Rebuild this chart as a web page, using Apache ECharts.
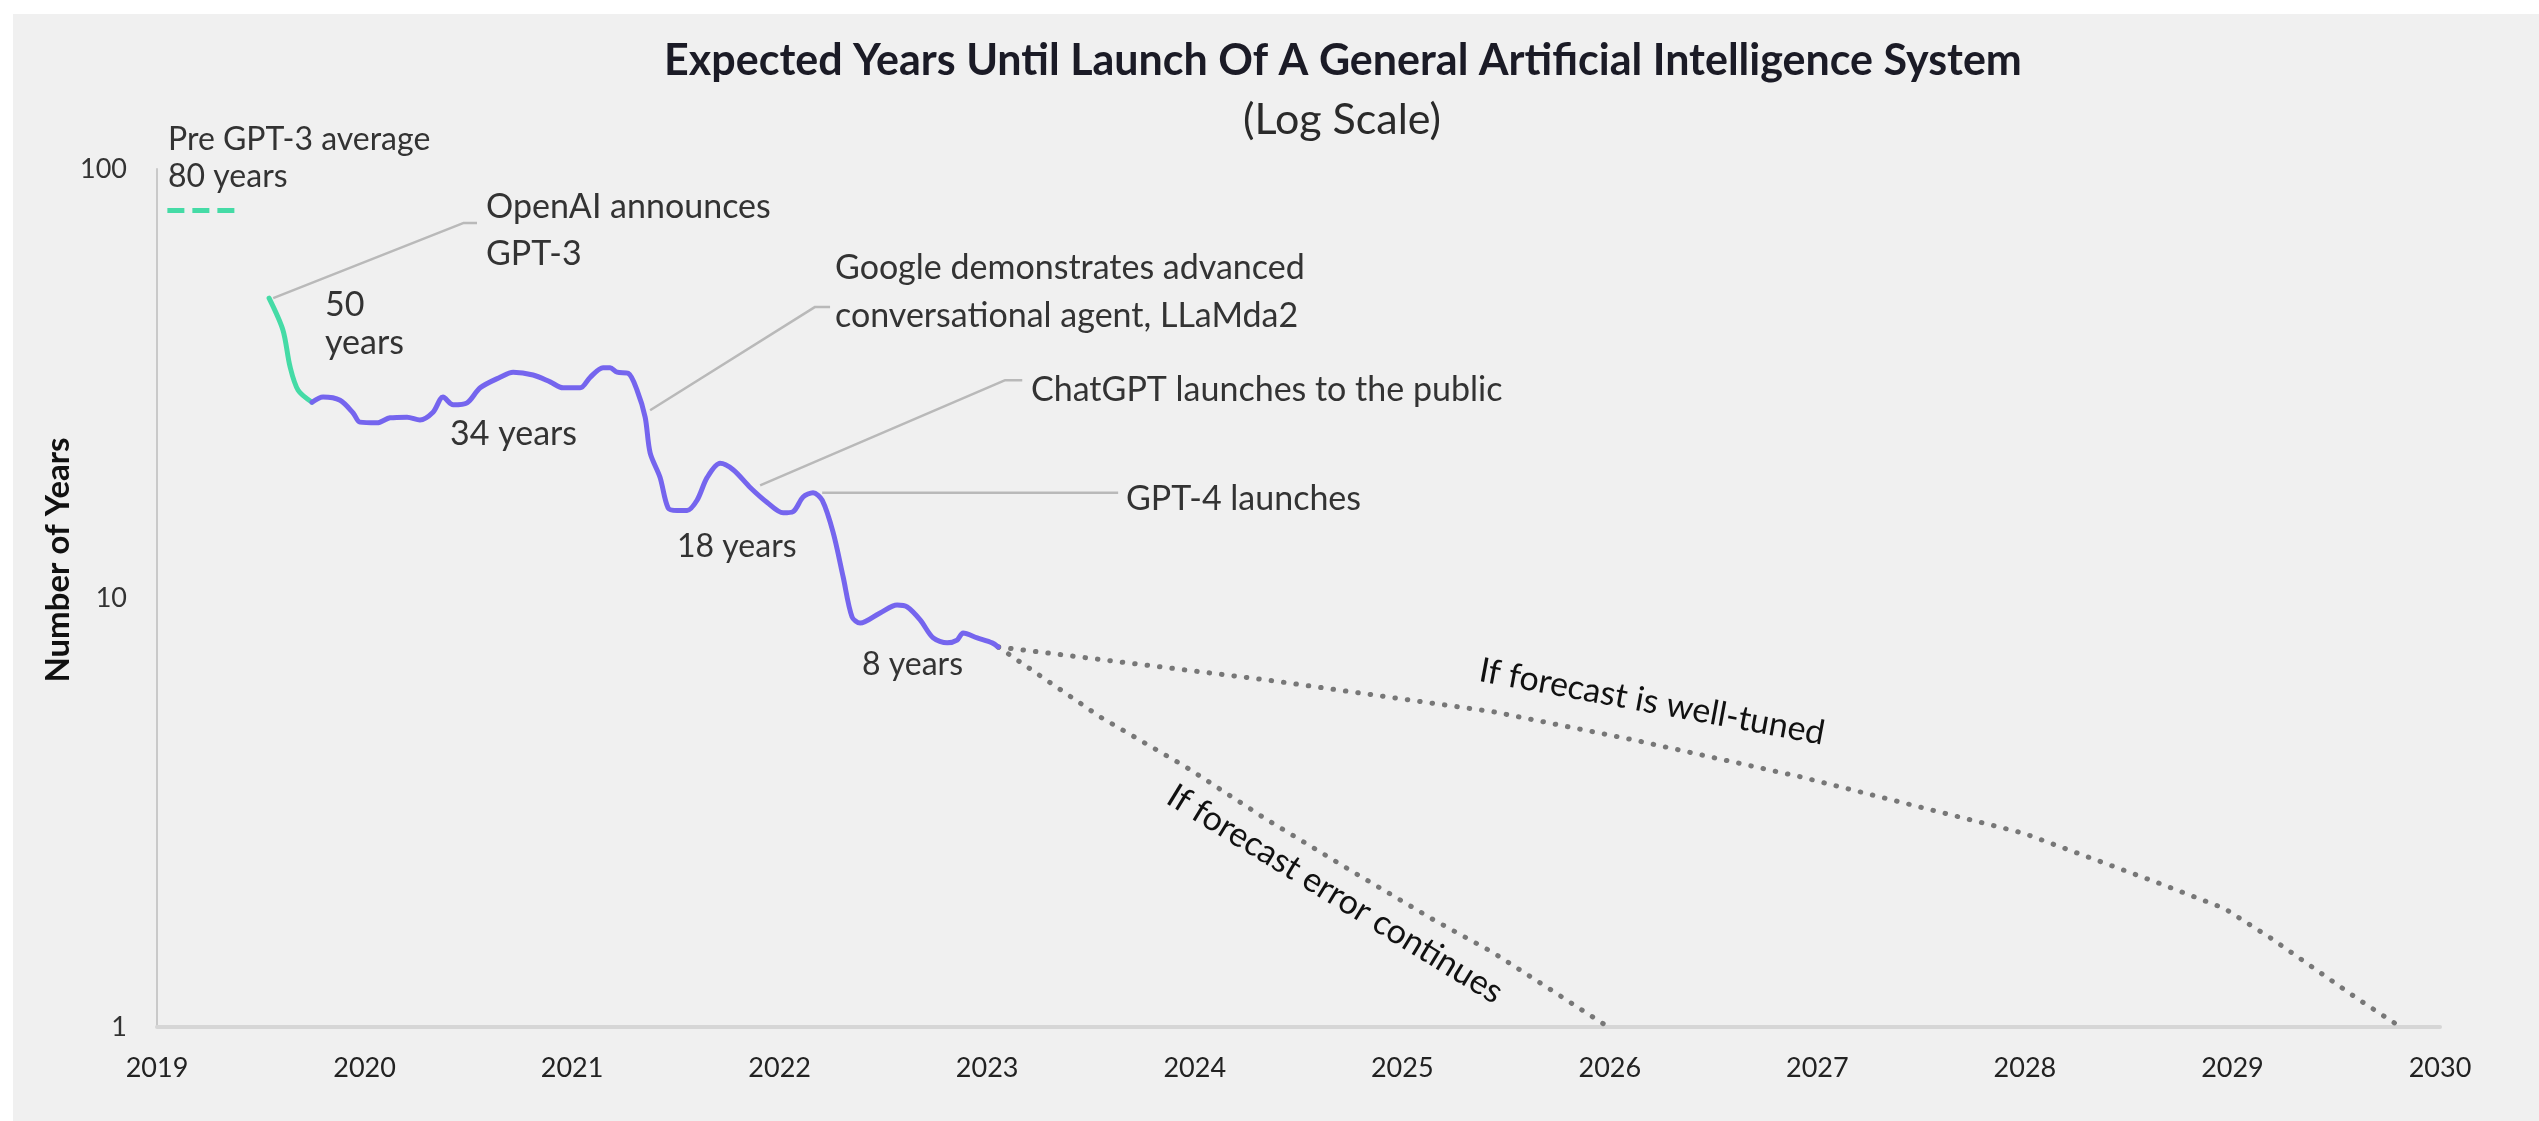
<!DOCTYPE html>
<html>
<head>
<meta charset="utf-8">
<script src="https://cdn.jsdelivr.net/npm/echarts@6/dist/echarts.min.js"></script>
<style>
html,body{margin:0;padding:0;background:#ffffff;}
#chart{width:2539px;height:1121px;}
</style>
</head>
<body>
<div id="chart"></div>
<script>
// ---------------- data ----------------
const yearTicks = [2019, 2020, 2021, 2022, 2023, 2024, 2025, 2026, 2027, 2028, 2029, 2030];
const yearTickLabels = ['2019', '2020', '2021', '2022', '2023', '2024', '2025', '2026', '2027', '2028', '2029', '2030'];
const valueTicks = [1, 10, 100];

// Pre GPT-3 average (80 years), short dashed marker
const preGpt3Average = [[2019.05, 80], [2019.39, 80]];

// Drop after GPT-3 announcement (green)
const gpt3Drop = [
  [2019.54, 50.0], [2019.607, 42.1], [2019.641, 34.6], [2019.68, 30.5], [2019.747, 28.6]
];

// Expected years until AGI (purple)
const expectedYears = [
  [2019.747, 28.6], [2019.80, 29.4], [2019.882, 28.9], [2019.945, 27.0], [2019.978, 25.7],
  [2020.06, 25.6], [2020.123, 26.3], [2020.205, 26.4], [2020.267, 26.0], [2020.33, 27.1],
  [2020.378, 29.4], [2020.427, 28.2], [2020.494, 28.5], [2020.557, 30.9], [2020.653, 32.7],
  [2020.716, 33.6], [2020.812, 33.1], [2020.894, 31.9], [2020.957, 30.9], [2021.039, 30.9],
  [2021.087, 32.7], [2021.149, 34.4], [2021.183, 34.4], [2021.217, 33.6], [2021.27, 33.4],
  [2021.313, 30.5], [2021.352, 26.4], [2021.376, 21.8], [2021.424, 19.1], [2021.463, 16.2],
  [2021.506, 16.0], [2021.554, 16.0], [2021.602, 16.9], [2021.651, 19.1], [2021.713, 20.6],
  [2021.776, 19.9], [2021.858, 18.1], [2021.94, 16.7], [2022.017, 15.8], [2022.065, 15.9],
  [2022.113, 17.2], [2022.161, 17.6], [2022.205, 16.9], [2022.258, 14.2], [2022.306, 11.2],
  [2022.349, 9.03], [2022.388, 8.74], [2022.484, 9.23], [2022.566, 9.63], [2022.614, 9.53],
  [2022.677, 8.89], [2022.74, 8.07], [2022.807, 7.86], [2022.855, 7.98], [2022.884, 8.29],
  [2022.952, 8.07], [2023.024, 7.86], [2023.053, 7.69]
];

// Forecast scenarios (dotted)
const forecastWellTuned = [
  [2023.053, 7.69], [2024.349, 6.44], [2025.439, 5.43], [2026.113, 4.67], [2026.918, 3.83],
  [2027.993, 2.83], [2028.639, 2.17], [2028.961, 1.89], [2029.178, 1.62], [2029.607, 1.16],
  [2029.81, 1.0]
];
const forecastErrorContinues = [
  [2023.053, 7.69], [2023.545, 5.28], [2023.964, 4.02], [2024.349, 3.04], [2024.749, 2.32],
  [2025.149, 1.78], [2025.439, 1.49], [2025.993, 1.0]
];

// Annotation leader lines (data coordinates)
const leaderOpenAI = [[2019.56, 50.0], [2020.475, 74.8], [2020.542, 74.8]];
const leaderGoogle = [[2021.376, 27.4], [2022.171, 47.7], [2022.243, 47.7]];
const leaderChatGPT = [[2021.906, 18.3], [2023.087, 32.2], [2023.169, 32.2]];
const leaderGPT4 = [[2022.205, 17.6], [2023.631, 17.6]];

// Annotation texts
const titleText = 'Expected Years Until Launch Of A General Artificial Intelligence System';
const subtitleText = '(Log Scale)';
const yAxisTitle = 'Number of Years';

// ---------------- chart ----------------
const FONT = 'Lato, "Open Sans", sans-serif';
const chart = echarts.init(document.getElementById('chart'), null, {renderer: 'canvas'});

function txt(text, x, y, size, opts) {
  opts = opts || {};
  return {
    type: 'text', x: x, y: y, rotation: opts.rotation || 0, z: 100,
    style: {
      text: text,
      font: (opts.weight || 'normal') + ' ' + size + 'px ' + FONT,
      fill: opts.color || '#333333',
      align: opts.align || 'left', textAlign: opts.align || 'left',
      verticalAlign: 'middle', textVerticalAlign: 'middle'
    }
  };
}

function leader(data) {
  return {
    type: 'line', data: data, symbol: 'none', silent: true, z: 1,
    lineStyle: {color: '#b9b9b9', width: 2.5}
  };
}

const deg = Math.PI / 180;
const ANN = 34;

const option = {
  backgroundColor: '#ffffff',
  animation: false,
  grid: {left: 157, right: 99, top: 169, bottom: 94, containLabel: false, outerBoundsMode: 'none'},
  xAxis: {
    type: 'value', min: yearTicks[0], max: yearTicks[yearTicks.length - 1], interval: 1,
    axisLine: {show: true, lineStyle: {color: '#d6d6d6', width: 4}},
    axisTick: {show: false},
    splitLine: {show: false},
    axisLabel: {
      margin: 28, color: '#222222', fontSize: 27, fontFamily: FONT,
      formatter: function (v) { const i = yearTicks.indexOf(v); return i >= 0 ? yearTickLabels[i] : ''; }
    }
  },
  yAxis: {
    type: 'log', logBase: 10, min: valueTicks[0], max: valueTicks[valueTicks.length - 1],
    axisLine: {show: true, lineStyle: {color: '#c9c9c9', width: 2}},
    axisTick: {show: false},
    splitLine: {show: false},
    minorTick: {show: false},
    axisLabel: {
      margin: 30, color: '#333333', fontSize: 27, fontFamily: FONT,
      formatter: function (v) { return String(v); }
    }
  },
  graphic: [
    {type: 'rect', shape: {x: 13, y: 14, width: 2539, height: 1121}, style: {fill: '#f0f0f0'}, z: -100, silent: true},
    txt(titleText, 1343, 61, 43, {weight: 'bold', align: 'center', color: '#1b1b26'}),
    txt(subtitleText, 1342, 120, 43, {align: 'center', color: '#2a2a2a'}),
    txt(yAxisTitle, 58, 560, 33, {weight: 'bold', align: 'center', color: '#111111', rotation: 90 * deg}),
    txt('Pre GPT-3 average', 168, 140, 32),
    txt('80 years', 168, 177, 32),
    txt('OpenAI announces', 486, 207, ANN),
    txt('GPT-3', 486, 254, ANN),
    txt('50', 325, 305, ANN),
    txt('years', 325, 343, ANN),
    txt('34 years', 450, 434, ANN),
    txt('18 years', 677, 547, 32),
    txt('8 years', 862, 665, 32),
    txt('Google demonstrates advanced', 835, 268, ANN),
    txt('conversational agent, LLaMda2', 835, 316, ANN),
    txt('ChatGPT launches to the public', 1031, 390, ANN),
    txt('GPT-4 launches', 1126, 499, ANN),
    txt('If forecast is well-tuned', 1652, 702, 34, {align: 'center', color: '#111111', rotation: -10.5 * deg}),
    txt('If forecast error continues', 1335, 894, 34, {align: 'center', color: '#111111', rotation: -31.5 * deg})
  ],
  series: [
    leader(leaderOpenAI),
    leader(leaderGoogle),
    leader(leaderChatGPT),
    leader(leaderGPT4),
    {
      name: 'Pre GPT-3 average', type: 'line', data: preGpt3Average, symbol: 'none', z: 3,
      lineStyle: {color: '#45dba6', width: 5, type: [17, 8]}
    },
    {
      name: 'If forecast is well-tuned', type: 'line', data: forecastWellTuned, symbol: 'none', z: 2,
      lineStyle: {color: '#777777', width: 5, type: [0.5, 12], cap: 'round'}
    },
    {
      name: 'If forecast error continues', type: 'line', data: forecastErrorContinues, symbol: 'none', z: 2,
      lineStyle: {color: '#777777', width: 5, type: [0.5, 12], cap: 'round'}
    },
    {
      name: 'GPT-3 drop', type: 'line', data: gpt3Drop, symbol: 'none', smooth: 0.3, z: 4,
      lineStyle: {color: '#45dba6', width: 5, cap: 'round', join: 'round'}
    },
    {
      name: 'Expected years', type: 'line', data: expectedYears, symbol: 'none', smooth: 0.3, z: 5,
      lineStyle: {color: '#7565ee', width: 5, cap: 'round', join: 'round'}
    }
  ]
};
chart.setOption(option);
</script>
</body>
</html>
